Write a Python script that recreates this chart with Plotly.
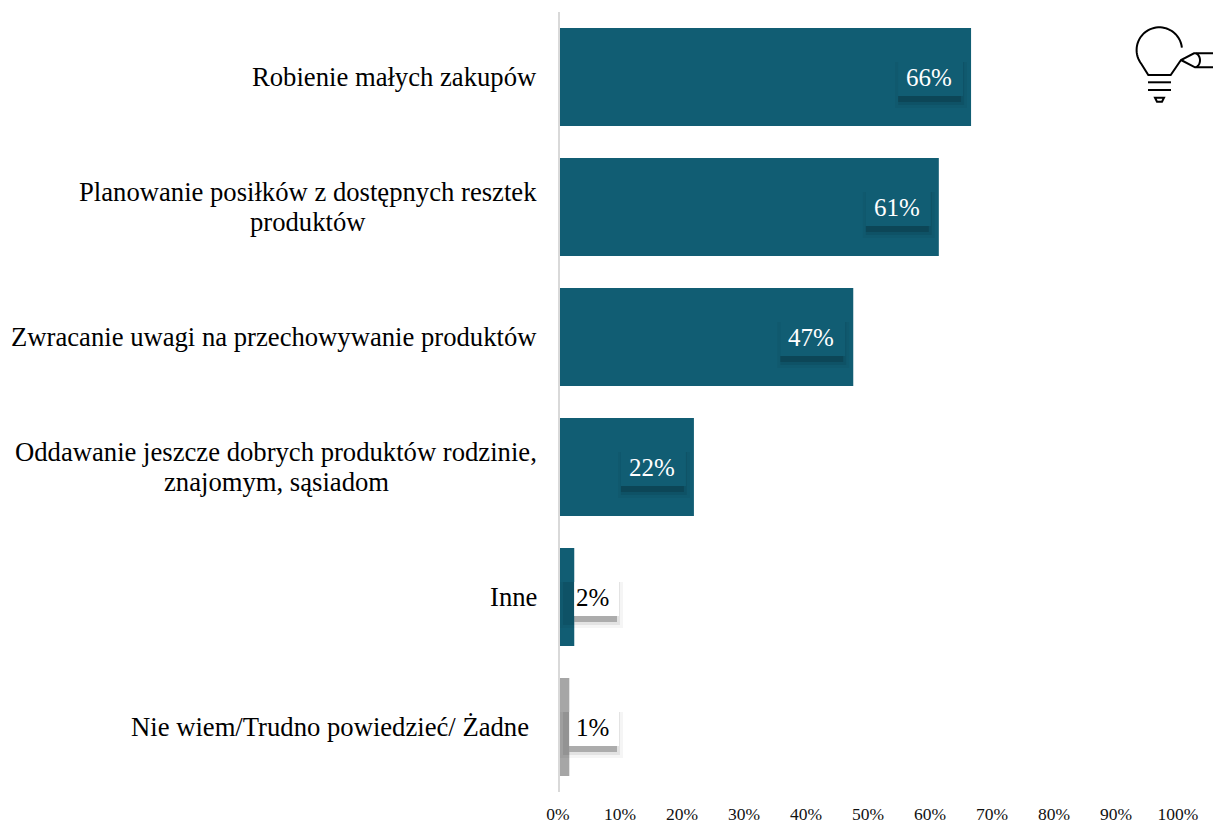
import numpy as np
import plotly.graph_objects as go

category_lines = [
    ["Robienie małych zakupów"],
    ["Planowanie posiłków z dostępnych resztek", "produktów"],
    ["Zwracanie uwagi na przechowywanie produktów"],
    ["Oddawanie jeszcze dobrych produktów rodzinie,", "znajomym, sąsiadom"],
    ["Inne"],
    ["Nie wiem/Trudno powiedzieć/ Żadne"],
]
values = [66.3, 61.1, 47.3, 21.6, 2.3, 1.5]
value_labels = ["66%", "61%", "47%", "22%", "2%", "1%"]
tick_values = [0, 10, 20, 30, 40, 50, 60, 70, 80, 90, 100]
tick_labels = ["0%", "10%", "20%", "30%", "40%", "50%", "60%", "70%", "80%", "90%", "100%"]

W, H = 1213, 821
L, R, T, B = 560, 1180, 12, 792
TEAL, GRAY = "#115D73", "#A6A6A6"
FONT = "Liberation Serif, Times New Roman, serif"
PX_X = (R - L) / 100
PX_Y = (B - T) / 6
bar_colors = [TEAL] * 5 + [GRAY]
two_line_center = {1: 308, 3: 276}  # page x of the centred two-line labels


def px(x):
    return (x - L) / (R - L)


def py(y):
    return (B - y) / (B - T)


def path(points, close=False):
    s = "M " + " L ".join(f"{px(x):.5f} {py(y):.5f}" for x, y in points)
    return s + (" Z" if close else "")


def rect(x0, x1, y0, y1, color, opacity=1):
    return dict(type="rect", layer="above", xref="x", yref="y", line=dict(width=0),
                fillcolor=color, opacity=opacity, x0=x0, x1=x1, y0=y0, y1=y1)


fig = go.Figure(go.Bar(
    x=values, y=list(range(6)), orientation="h", width=98 / PX_Y,
    marker=dict(color=bar_colors, line=dict(width=0)),
    hoverinfo="skip", showlegend=False,
))

shapes, annotations = [], []
for i, (v, lab, lines) in enumerate(zip(values, value_labels, category_lines)):
    dark = v > 10
    if dark:
        hi = v - 8 / PX_X
        lo = hi - 65 / PX_X
        fill = TEAL
        cx = hi - 34 / PX_X
    else:
        lo, hi = 3 / PX_X, 59 / PX_X
        fill = "white"
        cx = 32 / PX_X
    top, bot = i - 15 / PX_Y, i + 19 / PX_Y
    shapes.append(rect(lo - 3 / PX_X, hi + 4 / PX_X, top, bot + 12 / PX_Y, "#000000", .04))
    shapes.append(rect(lo, hi + 1 / PX_X, top, bot + 9 / PX_Y, "#000000", .07))
    shapes.append(rect(lo if dark else max(lo, v), hi - 2 / PX_X, bot, bot + 6 / PX_Y, "#000000",
                       .14 if dark else .24))
    shapes.append(rect(lo if dark else max(lo, v), hi, top, bot, fill))
    annotations.append(dict(
        x=cx, y=i, xref="x", yref="y", text=lab, showarrow=False,
        font=dict(family=FONT, size=25, color="white" if dark else "black"),
    ))
    if len(lines) == 1:
        annotations.append(dict(
            x=0, y=i, xref="x", yref="y", text=lines[0], showarrow=False,
            xanchor="right", xshift=-21 if i < 5 else -29,
            font=dict(family=FONT, size=26.67, color="black"),
        ))
    else:
        for line, dy in zip(lines, (15, -15)):
            annotations.append(dict(
                x=0, y=i, xref="x", yref="y", text=line, showarrow=False,
                xanchor="center", xshift=two_line_center[i] - L, yshift=dy,
                font=dict(family=FONT, size=26.67, color="black"),
            ))

# light-bulb icon, drawn in page pixels
t = np.radians(np.linspace(6, 218, 40))
arc = [(1159.3 + 22.7 * np.cos(a), 50 - 22.7 * np.sin(a)) for a in t]
nail = np.radians(np.linspace(-70, 70, 14))
nail_pts = [(1194 + 6 * np.cos(a), 60.3 + 7.4 * np.sin(a)) for a in nail]
icon_paths = [
    arc + [(1148.3, 75), (1170.7, 75), (1181, 60), (1194, 53.3), (1213, 53.3)],
    [(1181, 60), (1195, 67.3), (1213, 67.3)],
    nail_pts,
    [(1148, 82.3), (1171, 82.3)],
    [(1148, 90), (1171, 90)],
    [(1155, 97.7), (1164, 97.7), (1162, 101.7), (1157, 101.7)],
]
for i, p in enumerate(icon_paths):
    shapes.append(dict(
        type="path", xref="paper", yref="paper", layer="above",
        path=path(p, close=i == 5), line=dict(color="black", width=2),
    ))

fig.update_layout(
    width=W, height=H, autosize=False,
    margin=dict(l=L, r=W - R, t=T, b=H - B, pad=0, autoexpand=False),
    paper_bgcolor="white", plot_bgcolor="white",
    shapes=shapes, annotations=annotations,
    xaxis=dict(range=[0, 100], tickvals=tick_values, ticktext=tick_labels,
               showgrid=False, zeroline=False, showline=False,
               ticks="outside", ticklen=6, tickcolor="rgba(0,0,0,0)",
               tickfont=dict(family=FONT, size=17.5, color="#111111"),
               ticklabelshift=-2, automargin=False),
    yaxis=dict(range=[5.5, -0.5], showgrid=False, zeroline=False, showticklabels=False,
               showline=True, linecolor="#D9D9D9", linewidth=2, ticks=""),
)
fig.write_html(
    "out.html", config=dict(displayModeBar=False),
    post_script="document.body.style.margin='0';document.documentElement.style.overflow='hidden';",
)
